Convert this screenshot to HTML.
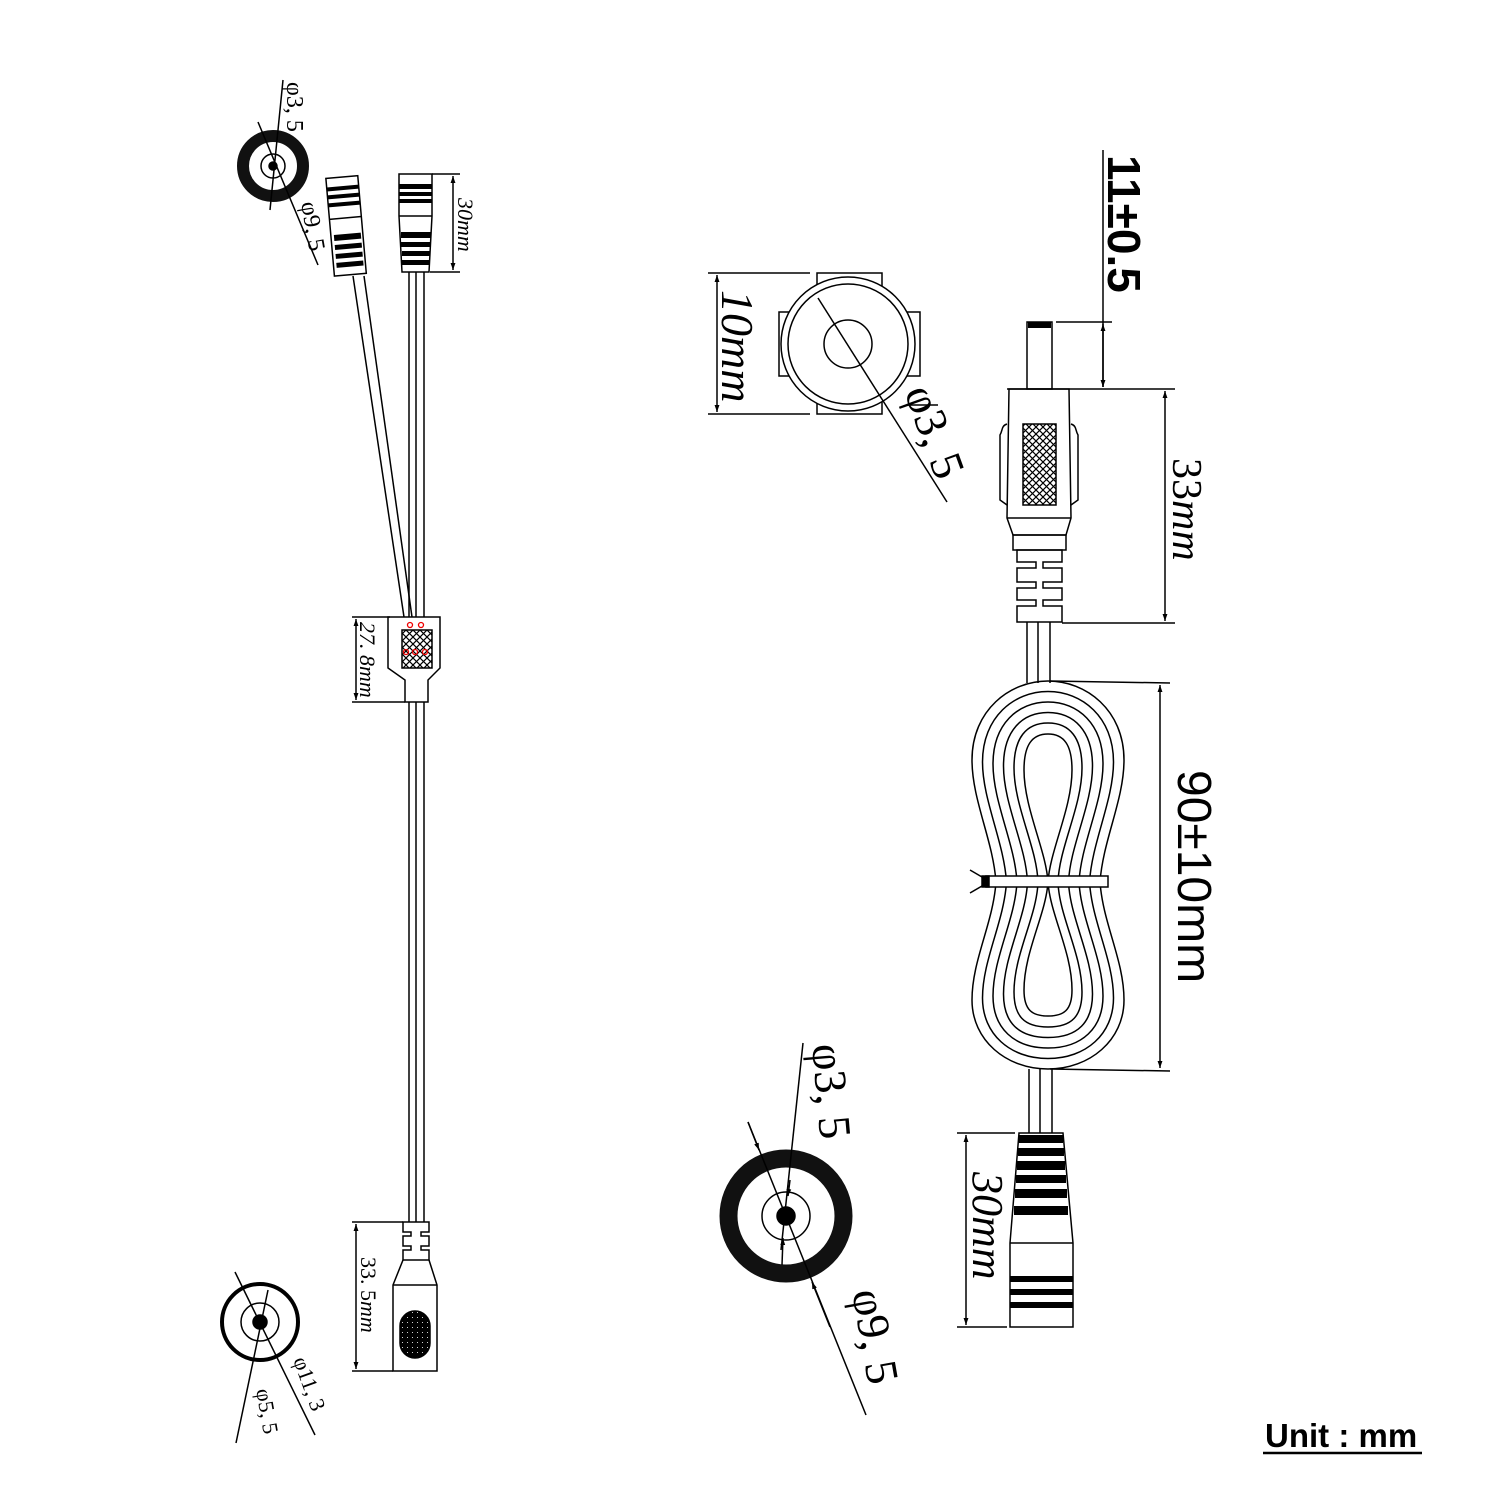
<!DOCTYPE html>
<html><head><meta charset="utf-8"><style>html,body{margin:0;padding:0;background:#fff}svg{display:block}</style></head>
<body>
<svg width="1500" height="1500" viewBox="0 0 1500 1500" xmlns="http://www.w3.org/2000/svg" fill="none" stroke="#000" stroke-width="1.5">
<defs>
<marker id="a" viewBox="0 0 10 10" refX="10" refY="5" markerWidth="7" markerHeight="9" orient="auto-start-reverse" markerUnits="userSpaceOnUse"><path d="M0,1.5 L10,5 L0,8.5z" fill="#000" stroke="none"/></marker>
<pattern id="x" width="7" height="7" patternUnits="userSpaceOnUse"><path d="M0,0L7,7M7,0L0,7" stroke="#000" stroke-width="1.2"/></pattern>
<pattern id="d" width="5" height="5" patternUnits="userSpaceOnUse"><rect width="5" height="5" fill="#000"/><circle cx="2.5" cy="2.5" r="1.3" fill="#fff"/></pattern>
</defs>

<!-- ===== Top-left end view ===== -->
<circle cx="273" cy="166" r="30" stroke="#111" stroke-width="12"/>
<circle cx="273" cy="166" r="12"/>
<circle cx="273" cy="166" r="4" fill="#000"/>
<line x1="283" y1="80" x2="270" y2="210"/>
<line x1="258" y1="122" x2="318" y2="265"/>
<g fill="#000" stroke="none" font-family="Liberation Serif, serif" font-size="24">
<text transform="translate(287,82) rotate(90)">φ3, 5</text>
<text transform="translate(301,203) rotate(80)">φ9, 5</text>
</g>

<!-- tilted connector -->
<g transform="rotate(-5 345 225)">
<rect x="330" y="177" width="32" height="98"/>
<rect x="330" y="186" width="32" height="4" fill="#000" stroke="none"/>
<rect x="330" y="194" width="32" height="4" fill="#000" stroke="none"/>
<rect x="330" y="202" width="32" height="4" fill="#000" stroke="none"/>
<line x1="330" y1="218" x2="362" y2="218"/>
<rect x="333" y="234" width="27" height="6" fill="#000" stroke="none"/>
<rect x="333" y="244" width="27" height="5" fill="#000" stroke="none"/>
<rect x="333" y="253" width="27" height="5" fill="#000" stroke="none"/>
<rect x="333" y="262" width="27" height="5" fill="#000" stroke="none"/>
</g>
<!-- straight connector -->
<path d="M399,174 H432 V216 L429,272 H402 L399,216 Z"/>
<line x1="399" y1="216" x2="432" y2="216"/>
<rect x="399" y="184" width="33" height="5" fill="#000" stroke="none"/>
<rect x="399" y="192" width="33" height="4" fill="#000" stroke="none"/>
<rect x="399" y="199" width="33" height="4" fill="#000" stroke="none"/>
<rect x="401" y="232" width="30" height="6" fill="#000" stroke="none"/>
<rect x="401" y="242" width="29" height="5" fill="#000" stroke="none"/>
<rect x="402" y="251" width="28" height="5" fill="#000" stroke="none"/>
<rect x="402" y="260" width="28" height="5" fill="#000" stroke="none"/>
<line x1="432" y1="174" x2="460" y2="174"/><line x1="430" y1="272" x2="460" y2="272"/>
<line x1="453" y1="176" x2="453" y2="270" marker-start="url(#a)" marker-end="url(#a)"/>
<text transform="translate(458,198) rotate(90)" fill="#000" stroke="none" font-family="Liberation Serif, serif" font-style="italic" font-size="22">30mm</text>

<!-- cables top -->
<line x1="353" y1="276" x2="404" y2="617"/><line x1="364" y1="276" x2="412" y2="617"/>
<line x1="409" y1="272" x2="409" y2="617"/><line x1="416" y1="272" x2="416" y2="617"/><line x1="424" y1="272" x2="424" y2="617"/>

<!-- splitter -->
<path d="M388,617 H440 V668 L428,680 V702 H405 V680 L388,668 Z"/>
<rect x="402" y="630" width="30" height="38" fill="url(#x)"/>
<g stroke="#e00" stroke-width="1.3"><circle cx="410" cy="625" r="2.5"/><circle cx="421" cy="625" r="2.5"/><circle cx="406" cy="652" r="2.5"/><circle cx="415" cy="652" r="2.5"/><circle cx="425" cy="652" r="2.5"/></g>
<line x1="352" y1="617" x2="390" y2="617"/><line x1="352" y1="702" x2="405" y2="702"/>
<line x1="356" y1="619" x2="356" y2="700" marker-start="url(#a)" marker-end="url(#a)"/>
<text transform="translate(360,622) rotate(90)" fill="#000" stroke="none" font-family="Liberation Serif, serif" font-style="italic" font-size="22">27. 8mm</text>

<!-- long cable -->
<line x1="409" y1="702" x2="409" y2="1222"/><line x1="416" y1="702" x2="416" y2="1222"/><line x1="424" y1="702" x2="424" y2="1222"/>

<!-- bottom-left connector -->
<path d="M403,1222 H429 V1232 H421 V1236 H429 V1246 H421 V1250 H429 V1260 H403 V1250 H411 V1246 H403 V1236 H411 V1232 H403 Z"/>
<path d="M403,1260 L393,1285 V1371 H437 V1285 L429,1260"/>
<line x1="393" y1="1285" x2="437" y2="1285"/>
<rect x="400" y="1311" width="30" height="47" rx="15" fill="url(#d)" stroke="#000"/>
<line x1="352" y1="1222" x2="403" y2="1222"/><line x1="352" y1="1371" x2="393" y2="1371"/>
<line x1="356" y1="1224" x2="356" y2="1369" marker-start="url(#a)" marker-end="url(#a)"/>
<text transform="translate(361,1257) rotate(90)" fill="#000" stroke="none" font-family="Liberation Serif, serif" font-size="22">33. 5<tspan font-style="italic">mm</tspan></text>

<!-- bottom-left end view -->
<circle cx="260" cy="1322" r="38" stroke-width="4"/>
<circle cx="260" cy="1322" r="19"/>
<circle cx="260" cy="1322" r="7" fill="#000"/>
<line x1="235" y1="1272" x2="315" y2="1435"/>
<line x1="268" y1="1290" x2="236" y2="1443"/>
<g fill="#000" stroke="none" font-family="Liberation Serif, serif" font-size="22">
<text transform="translate(293,1360) rotate(70)">φ11, 3</text>
<text transform="translate(256,1390) rotate(80)">φ5, 5</text>
</g>

<!-- ===== Top-right end view ===== -->
<rect x="817" y="273" width="65" height="141"/>
<rect x="779" y="312" width="141" height="64"/>
<circle cx="848" cy="344" r="67" fill="#fff"/>
<circle cx="848" cy="344" r="60"/>
<circle cx="848" cy="344" r="24"/>
<line x1="818" y1="298" x2="947" y2="502"/>
<line x1="908" y1="405" x2="938" y2="405"/>
<line x1="708" y1="273" x2="810" y2="273"/><line x1="708" y1="414" x2="810" y2="414"/>
<line x1="717" y1="275" x2="717" y2="412" marker-start="url(#a)" marker-end="url(#a)"/>
<g fill="#000" stroke="none" font-family="Liberation Serif, serif" font-size="46">
<text transform="translate(722,290) rotate(90)" font-style="italic">10mm</text>
<text transform="translate(904,392) rotate(70)">φ3, 5</text>
</g>

<!-- ===== Right plug ===== -->
<rect x="1027" y="322" width="25" height="67"/>
<rect x="1028" y="322" width="23" height="6" fill="#000" stroke="none"/>
<line x1="1056" y1="322" x2="1112" y2="322"/>
<line x1="1103" y1="150" x2="1103" y2="387" />
<line x1="1103" y1="324" x2="1103" y2="387" marker-start="url(#a)" marker-end="url(#a)"/>
<path d="M1009,389 L1007,518 L1013,535 H1066 L1071,518 L1069,389 Z"/>
<line x1="1007" y1="389" x2="1175" y2="389"/>
<path d="M1007,424 C1001,426 1003,430 1000,435 V500 L1007,505" />
<path d="M1071,424 C1077,426 1075,430 1078,435 V500 L1071,505" />
<line x1="1007" y1="518" x2="1071" y2="518"/>
<rect x="1023" y="424" width="33" height="81" fill="url(#x)"/>
<rect x="1013" y="535" width="53" height="15"/>
<path d="M1017,550 H1062 V562 H1043 V568 H1062 V582 H1043 V588 H1062 V600 H1043 V606 H1062 V622 H1017 V606 H1036 V600 H1017 V588 H1036 V582 H1017 V568 H1036 V562 H1017 Z"/>
<line x1="1062" y1="623" x2="1175" y2="623"/>
<line x1="1165" y1="391" x2="1165" y2="621" marker-start="url(#a)" marker-end="url(#a)"/>
<g fill="#000" stroke="none" font-family="Liberation Sans, sans-serif">
<text transform="translate(1108,155) rotate(90)" font-size="46" font-weight="bold">11±0.5</text>
<text transform="translate(1173,458) rotate(90)" font-size="42" font-family="Liberation Serif, serif">33<tspan font-style="italic">mm</tspan></text>
<text transform="translate(1178,770) rotate(90)" font-size="48">90±10mm</text>
</g>

<!-- cable to coil -->
<line x1="1027" y1="622" x2="1027" y2="683"/><line x1="1038" y1="622" x2="1038" y2="683"/><line x1="1050" y1="622" x2="1050" y2="683"/>

<!-- coil -->
<g>
<path d="M996,882 C993,840 972,800 972,760 C972,710 1010,681 1048,681 C1086,681 1124,710 1124,760 C1124,800 1103,840 1100,882 C1103,924 1124,960 1124,1000 C1124,1040 1090,1069 1048,1069 C1006,1069 972,1040 972,1000 C972,960 993,924 996,882 Z"/>
<path d="M1006.5,882 C1004,842 982.5,800 982.5,762 C982.5,717 1014,691.5 1048,691.5 C1082,691.5 1113.5,717 1113.5,762 C1113.5,800 1092,842 1089.5,882 C1092,922 1113.5,960 1113.5,998 C1113.5,1034 1086,1058.5 1048,1058.5 C1010,1058.5 982.5,1034 982.5,998 C982.5,960 1004,922 1006.5,882 Z"/>
<path d="M1017,882 C1015,844 993,802 993,764 C993,724 1018,702 1048,702 C1078,702 1103,724 1103,764 C1103,802 1081,844 1079,882 C1081,920 1103,958 1103,996 C1103,1028 1082,1048 1048,1048 C1014,1048 993,1028 993,996 C993,958 1015,920 1017,882 Z"/>
<path d="M1027.5,882 C1026,846 1003.5,804 1003.5,766 C1003.5,731 1022,712.5 1048,712.5 C1074,712.5 1092.5,731 1092.5,766 C1092.5,804 1070,846 1068.5,882 C1070,918 1092.5,956 1092.5,994 C1092.5,1022 1078,1037.5 1048,1037.5 C1018,1037.5 1003.5,1022 1003.5,994 C1003.5,956 1026,918 1027.5,882 Z"/>
<path d="M1038,882 C1037,848 1014,806 1014,768 C1014,738 1026,723 1048,723 C1070,723 1082,738 1082,768 C1082,806 1059,848 1058,882 C1059,916 1082,954 1082,992 C1082,1016 1072,1027 1048,1027 C1024,1027 1014,1016 1014,992 C1014,954 1037,916 1038,882 Z"/>
<path d="M1048,882 C1046,850 1024,808 1024,770 C1024,745 1032,734 1048,734 C1064,734 1072,745 1072,770 C1072,808 1050,850 1048,882 C1050,914 1072,952 1072,990 C1072,1010 1064,1016 1048,1016 C1032,1016 1024,1010 1024,990 C1024,952 1046,914 1048,882 Z"/>
</g>
<rect x="986" y="876" width="122" height="11" fill="#fff"/>
<rect x="982" y="876" width="7" height="11" fill="#000"/>
<line x1="982" y1="877" x2="970" y2="870"/><line x1="982" y1="886" x2="970" y2="893"/>
<line x1="1050" y1="681" x2="1170" y2="683"/>
<line x1="1050" y1="1069" x2="1170" y2="1071"/>
<line x1="1160" y1="685" x2="1160" y2="1068" marker-start="url(#a)" marker-end="url(#a)"/>

<!-- cable to female -->
<line x1="1029" y1="1069" x2="1029" y2="1133"/><line x1="1040" y1="1069" x2="1040" y2="1133"/><line x1="1052" y1="1069" x2="1052" y2="1133"/>

<!-- bottom female -->
<path d="M1019,1133 H1063 L1073,1243 V1327 H1010 V1243 Z"/>
<line x1="1010" y1="1243" x2="1073" y2="1243"/>
<g fill="#000" stroke="none">
<rect x="1019" y="1135" width="44" height="8"/>
<rect x="1018" y="1148" width="46" height="8"/>
<rect x="1017" y="1161" width="48" height="9"/>
<rect x="1016" y="1175" width="50" height="8"/>
<rect x="1015" y="1189" width="52" height="9"/>
<rect x="1014" y="1206" width="54" height="9"/>
<rect x="1010" y="1276" width="63" height="6"/>
<rect x="1010" y="1289" width="63" height="6"/>
<rect x="1010" y="1302" width="63" height="6"/>
</g>
<line x1="957" y1="1133" x2="1015" y2="1133"/><line x1="957" y1="1327" x2="1007" y2="1327"/>
<line x1="966" y1="1135" x2="966" y2="1325" marker-start="url(#a)" marker-end="url(#a)"/>
<text transform="translate(973,1172) rotate(90)" fill="#000" stroke="none" font-family="Liberation Serif, serif" font-size="44" font-style="italic">30mm</text>

<!-- bottom center end view -->
<circle cx="786" cy="1216" r="57.5" stroke="#111" stroke-width="18"/>
<circle cx="786" cy="1216" r="24"/>
<circle cx="786" cy="1216" r="9" fill="#000"/>
<line x1="803" y1="1043" x2="781" y2="1250" />
<line x1="790" y1="1180" x2="788" y2="1196" marker-end="url(#a)"/>
<line x1="782" y1="1265" x2="783" y2="1238" marker-end="url(#a)"/>
<line x1="748" y1="1122" x2="866" y2="1415"/>
<line x1="748" y1="1122" x2="759" y2="1150" marker-end="url(#a)"/>
<line x1="830" y1="1327" x2="812" y2="1282" marker-end="url(#a)"/>
<g fill="#000" stroke="none" font-family="Liberation Serif, serif" font-size="46">
<text transform="translate(812,1045) rotate(85)">φ3, 5</text>
<text transform="translate(852,1292) rotate(80)">φ9, 5</text>
</g>

<!-- Unit -->
<text x="1265" y="1447" fill="#000" stroke="none" font-family="Liberation Sans, sans-serif" font-weight="bold" font-size="33">Unit : mm</text>
<line x1="1263" y1="1453" x2="1422" y2="1453" stroke-width="2.5"/>
</svg>
</body></html>
